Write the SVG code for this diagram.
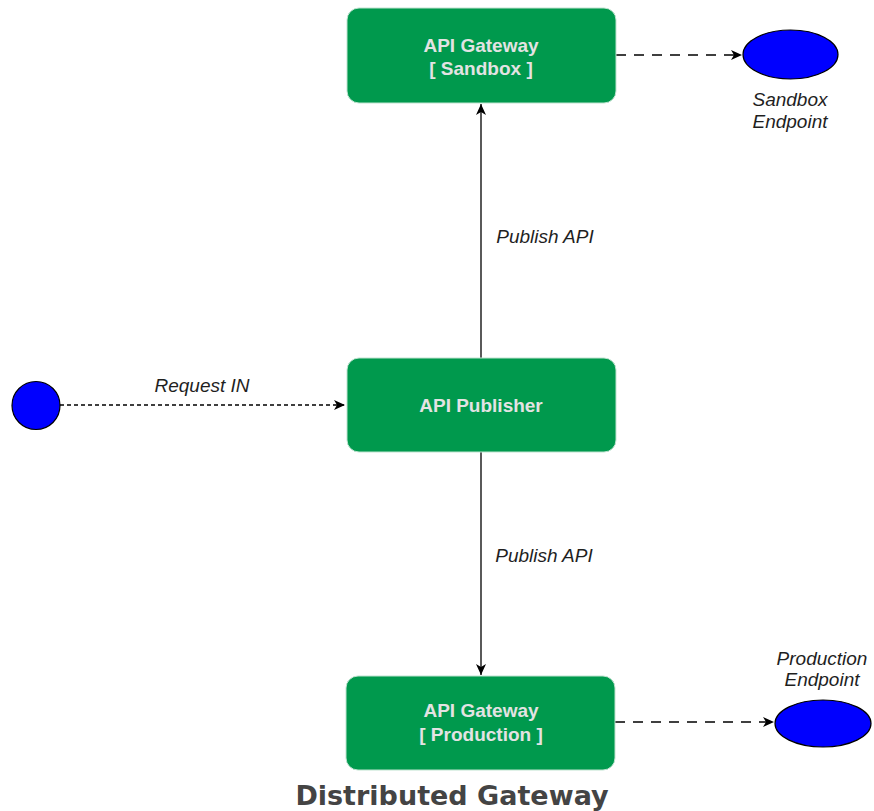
<svg xmlns="http://www.w3.org/2000/svg" width="874" height="811" viewBox="0 0 874 811">
<style>
.box{fill:#00994D;stroke:#BFE3D0;stroke-width:1}
.bt{font-family:"Liberation Sans",Arial,sans-serif;font-weight:bold;font-size:19px;fill:#E3E3E3;text-anchor:middle}
.lbl{font-family:"Liberation Sans",Arial,sans-serif;font-style:italic;font-size:19px;fill:#1F1F1F;text-anchor:middle}
.ep{fill:#0000FF;stroke:#000000;stroke-width:1.2}
.ln{fill:none;stroke:#000000;stroke-width:1.3}
.title{font-family:"DejaVu Sans",sans-serif;font-weight:bold;font-size:27px;fill:#444444;text-anchor:middle}
</style>
<defs>
<marker id="arr" markerUnits="userSpaceOnUse" markerWidth="12" markerHeight="10" refX="11" refY="5" orient="auto">
<path d="M0,0 L11,5 L0,10 L3,5 Z" fill="#000000"/>
</marker>
</defs>
<rect width="874" height="811" fill="#FFFFFF"/>
<g id="connectors">
<line class="ln" x1="481" y1="358" x2="481" y2="104" marker-end="url(#arr)"/>
<line class="ln" x1="481" y1="452" x2="481" y2="675" marker-end="url(#arr)"/>
<line class="ln" x1="60" y1="405" x2="345" y2="405" stroke-dasharray="4,3" marker-end="url(#arr)"/>
<line class="ln" x1="616" y1="55" x2="742" y2="55" stroke-dasharray="10,8" marker-end="url(#arr)"/>
<line class="ln" x1="615" y1="722" x2="774" y2="722" stroke-dasharray="10,8" marker-end="url(#arr)"/>
<text class="lbl" x="545" y="243">Publish API</text>
<text class="lbl" x="544" y="562">Publish API</text>
<text class="lbl" x="202" y="392">Request IN</text>
</g>
<g id="gw-sandbox">
<rect class="box" x="347" y="8" width="269" height="95" rx="12"/>
<text class="bt" x="481" y="52">API Gateway</text>
<text class="bt" x="481" y="75">[ Sandbox ]</text>
</g>
<g id="publisher">
<rect class="box" x="347" y="358" width="269" height="94" rx="12"/>
<text class="bt" x="481" y="412">API Publisher</text>
</g>
<g id="gw-production">
<rect class="box" x="346" y="676" width="269" height="94" rx="12"/>
<text class="bt" x="481" y="717">API Gateway</text>
<text class="bt" x="481" y="741">[ Production ]</text>
</g>
<g id="request-in">
<circle class="ep" cx="36" cy="405.5" r="24"/>
</g>
<g id="sandbox-endpoint">
<ellipse class="ep" cx="790.5" cy="54.5" rx="47.5" ry="24.5"/>
<text class="lbl" x="790" y="106">Sandbox</text>
<text class="lbl" x="790" y="128">Endpoint</text>
</g>
<g id="production-endpoint">
<ellipse class="ep" cx="823" cy="723.5" rx="48" ry="23.5"/>
<text class="lbl" x="822" y="665">Production</text>
<text class="lbl" x="822" y="686">Endpoint</text>
</g>
<text class="title" x="452" y="805">Distributed Gateway</text>
</svg>
